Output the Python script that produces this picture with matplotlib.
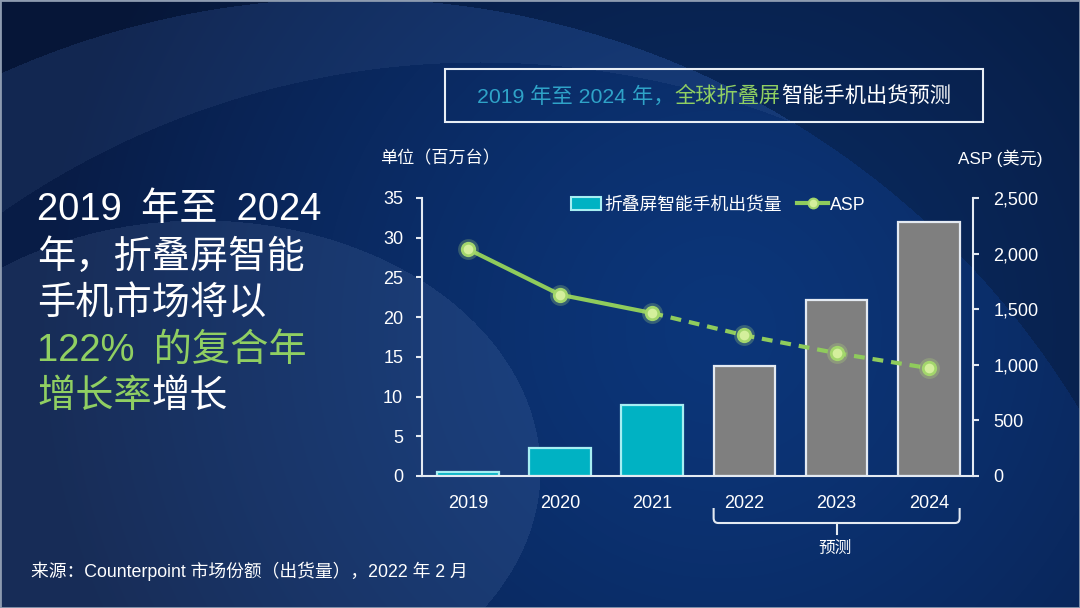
import matplotlib
matplotlib.use("Agg")
import matplotlib.pyplot as plt
import numpy as np
from matplotlib.lines import Line2D
from matplotlib.patches import Patch, Rectangle, PathPatch
from matplotlib.path import Path
from matplotlib.ticker import FuncFormatter
from matplotlib.transforms import blended_transform_factory

plt.rcParams["font.family"] = ["Liberation Sans", "Noto Sans CJK SC", "DejaVu Sans"]

# ---------- data ----------
years = ["2019", "2020", "2021", "2022", "2023", "2024"]
shipments = [0.5, 3.5, 8.9, 13.8, 22.2, 32.0]      # 百万台
asp = [2040, 1630, 1465, 1265, 1105, 970]           # 美元
first_forecast = 3                                  # 2022 起为预测

TEAL = "#00b2c3"
TEAL_EDGE = "#a6eef2"
GRAY = "#7f7f7f"
GRAY_EDGE = "#e4eaf2"
GREEN = "#8fcb5c"
TITLE_TEAL = "#2fa3c8"
TEXT_GREEN = "#90cf62"
AXIS = "#e4eaf2"

W, H = 1080, 608
fig = plt.figure(figsize=(W / 100, H / 100), dpi=100)


def px(x):
    return x / W


def py(y):
    return 1 - y / H


# ---------- background ----------
yy, xx = np.mgrid[0:H, 0:W]
d = np.clip(np.hypot(xx - 720, yy - 330) / 680, 0, 1)[..., None]
inner = np.array([12, 54, 122]) / 255
outer = np.array([8, 28, 70]) / 255
bg = inner + (outer - inner) * d ** 1.3
light = np.array([0.55, 0.66, 0.85])

band = (np.hypot(xx - 350, yy - 850) < 852) & (np.hypot(xx - 480, yy - 900) > 838)
corner = np.hypot(xx - 350, yy - 850) >= 852
blob = ((xx - 200) / 340) ** 2 + ((yy - 470) / 250) ** 2 < 1
bg[band] = bg[band] * 0.92 + light * 0.08
bg[blob] = bg[blob] * 0.88 + light * 0.12
bg[corner] = bg[corner] * 0.8

bgax = fig.add_axes([0, 0, 1, 1], zorder=-10)
bgax.imshow(bg, extent=(0, W, H, 0), aspect="auto")
bgax.axis("off")
fig.patches.append(Rectangle((0, 0), 1, 1, transform=fig.transFigure, fill=False,
                             edgecolor="#8d9bb0", linewidth=2))

# ---------- chart ----------
ax = fig.add_axes([px(422), py(476), px(973) - px(422), (476 - 198) / H])
ax.set_facecolor("none")
x = np.arange(len(years))
fills = [TEAL if i < first_forecast else GRAY for i in x]
edges = [TEAL_EDGE if i < first_forecast else GRAY_EDGE for i in x]
ax.bar(x, shipments, width=0.67, color=fills, edgecolor=edges, linewidth=1.6, zorder=2)

ax.set_xlim(-0.5, 5.48)
ax.set_ylim(0, 35)
ax.set_yticks(range(0, 36, 5))
ax.set_xticks(x, years)
ax.tick_params(axis="x", length=0, pad=14, labelsize=13, labelcolor="white")
ax.tick_params(axis="y", direction="out", length=4.5, width=1.5, color=AXIS,
               pad=9, labelsize=13, labelcolor="white")
for s in ("top", "right"):
    ax.spines[s].set_visible(False)
for s in ("left", "bottom"):
    ax.spines[s].set_color(AXIS)
    ax.spines[s].set_linewidth(1.5)

ax2 = ax.twinx()
ax2.set_ylim(0, 2500)
ax2.set_yticks(range(0, 2501, 500))
ax2.yaxis.set_major_formatter(FuncFormatter(lambda v, p: f"{v:,.0f}"))
ax2.tick_params(axis="y", direction="out", length=4.5, width=1.5, color=AXIS,
                pad=10, labelsize=13, labelcolor="white")
for s in ("top", "left", "bottom"):
    ax2.spines[s].set_visible(False)
ax2.spines["right"].set_color(AXIS)
ax2.spines["right"].set_linewidth(1.5)

k = first_forecast - 1
ax2.plot(x[:k + 1], asp[:k + 1], color=GREEN, lw=3, solid_capstyle="round", zorder=3)
ax2.plot(x[k:], asp[k:], color=GREEN, lw=3, dashes=(2.6, 1.9), zorder=3)
ax2.plot(x, asp, "o", ms=15, color="#b8e67a", alpha=0.25, mec="none", zorder=4)
ax2.plot(x, asp, "o", ms=9, mfc="#d4ef9c", mec="#a3d66c", mew=2, zorder=5)

# legend
handles = [
    Patch(facecolor=TEAL, edgecolor=TEAL_EDGE, linewidth=1.5),
    Line2D([], [], color=GREEN, lw=3, marker="o", ms=7, mfc="#d4ef9c", mec="#a3d66c", mew=1.5),
]
fig.legend(handles, ["折叠屏智能手机出货量", "ASP"], loc="center left",
           bbox_to_anchor=(px(571), py(205)), ncol=2, frameon=False, fontsize=12.8,
           handlelength=1.7, handleheight=0.75, handletextpad=0.15, columnspacing=0.9,
           borderpad=0, borderaxespad=0, labelcolor="white")

fig.text(px(380), py(158), "单位（百万台）", fontsize=12.3, color="white", va="center")
fig.text(px(1043), py(158), "ASP (美元)", fontsize=12.3, color="white", va="center", ha="right")

# forecast bracket
tr = blended_transform_factory(ax.transData, fig.transFigure)
xl, xr = first_forecast - 0.335, len(years) - 1 + 0.335
xc = (first_forecast + len(years) - 1) / 2
yt, yh = py(508), py(523)
rx, ry = 0.05, 5 / H
verts = [(xl, yt), (xl, yh + ry), (xl, yh), (xl + rx, yh), (xr - rx, yh),
         (xr, yh), (xr, yh + ry), (xr, yt)]
codes = [Path.MOVETO, Path.LINETO, Path.CURVE3, Path.CURVE3, Path.LINETO,
         Path.CURVE3, Path.CURVE3, Path.LINETO]
fig.patches.append(PathPatch(Path(verts, codes), transform=tr, fill=False,
                             edgecolor=AXIS, linewidth=1.5))
fig.lines.append(Line2D([xc, xc], [yh, py(534)], transform=tr, color=AXIS, lw=1.5))
fig.text(px(835), py(548), "预测", fontsize=12, color="white", ha="center", va="center")

# ---------- texts ----------
renderer = fig.canvas.get_renderer()


def draw_runs(x0, y0, runs, size):
    xpos = x0
    for text, color in runs:
        t = fig.text(xpos, y0, text, fontsize=size, color=color, va="center", ha="left")
        xpos = t.get_window_extent(renderer=renderer).x1 / fig.bbox.width


fig.patches.append(Rectangle((px(445), py(122)), px(983) - px(445), (122 - 69) / H,
                             transform=fig.transFigure, fill=False,
                             edgecolor="#e8eef5", linewidth=1.5))
draw_runs(px(477), py(96), [("2019 年至 2024 年，", TITLE_TEAL),
                            ("全球折叠屏", TEXT_GREEN),
                            ("智能手机出货预测", "white")], 15.3)

headline = [
    [("2019\u2002年至\u20022024", "white")],
    [("年，折叠屏智能", "white")],
    [("手机市场将以", "white")],
    [("122%\u2002的复合年", TEXT_GREEN)],
    [("增长率", TEXT_GREEN), ("增长", "white")],
]
line_y = [210, 258, 305, 351, 397]
for runs, yv in zip(headline, line_y):
    draw_runs(px(37), py(yv), runs, 27.5)

fig.text(px(31), py(571), "来源：Counterpoint 市场份额（出货量），2022 年 2 月",
         fontsize=12.8, color="white", va="center")

fig.savefig("out.png", dpi=100, facecolor=fig.get_facecolor())
